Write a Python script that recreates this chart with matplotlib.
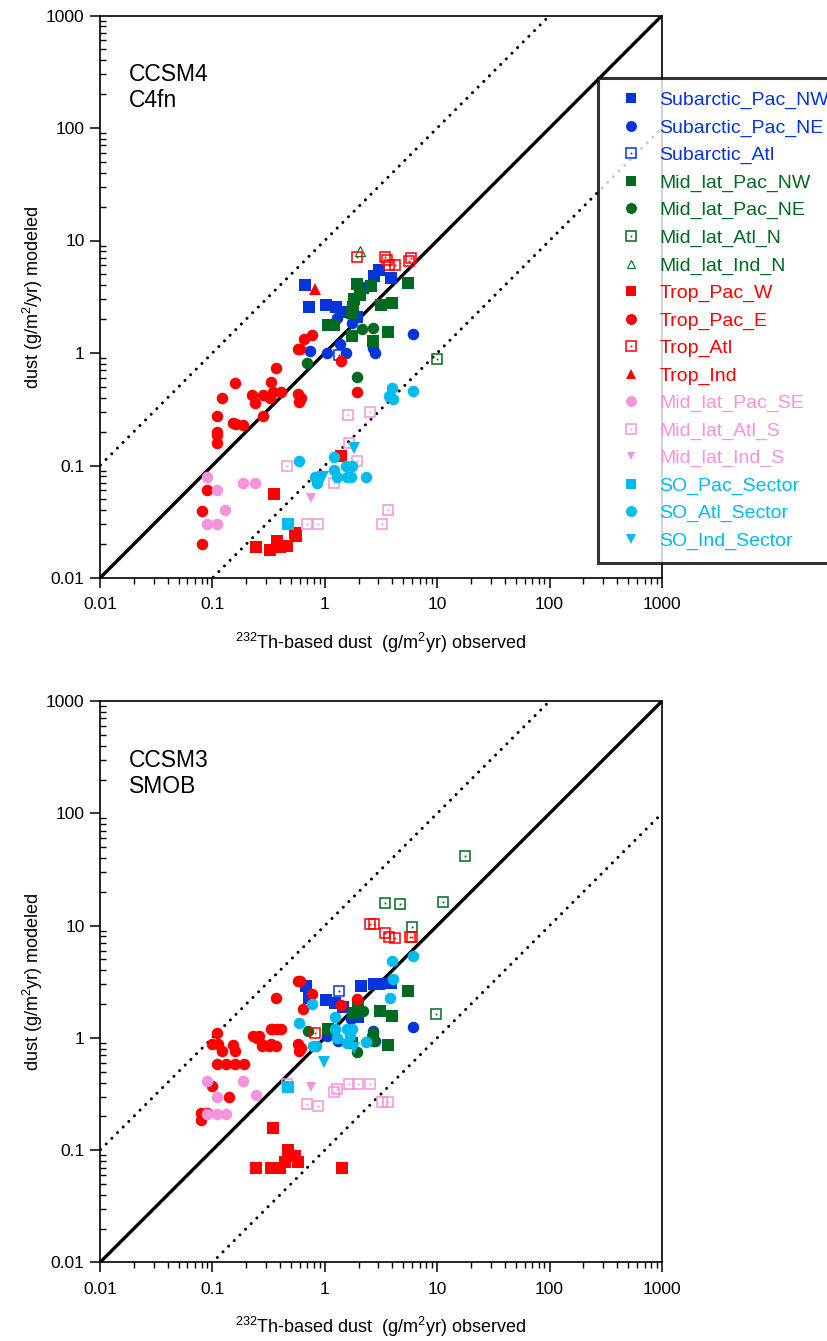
import matplotlib
matplotlib.use('Agg')
import matplotlib.pyplot as plt
from matplotlib.lines import Line2D
from matplotlib.ticker import FixedLocator, FixedFormatter, NullFormatter
import numpy as np

plt.rcParams['font.family'] = ['Liberation Sans', 'DejaVu Sans']
plt.rcParams['mathtext.fontset'] = 'custom'
plt.rcParams['mathtext.rm'] = 'Liberation Sans'
plt.rcParams['mathtext.it'] = 'Liberation Sans:italic'
plt.rcParams['mathtext.bf'] = 'Liberation Sans:bold'
plt.rcParams['mathtext.default'] = 'regular'

# ---------------- series definitions ----------------
series_names = ['Subarctic_Pac_NW', 'Subarctic_Pac_NE', 'Subarctic_Atl',
                'Mid_lat_Pac_NW', 'Mid_lat_Pac_NE', 'Mid_lat_Atl_N', 'Mid_lat_Ind_N',
                'Trop_Pac_W', 'Trop_Pac_E', 'Trop_Atl', 'Trop_Ind',
                'Mid_lat_Pac_SE', 'Mid_lat_Atl_S', 'Mid_lat_Ind_S',
                'SO_Pac_Sector', 'SO_Atl_Sector', 'SO_Ind_Sector']

# ---------------- panel 1: CCSM4 C4fn ----------------
c4_sub_pac_nw_x = [0.67, 0.73, 1.03, 1.25, 1.45, 3.03, 2.75, 3.9, 2.2, 1.95]
c4_sub_pac_nw_y = [4.0, 2.55, 2.65, 2.55, 2.33, 5.5, 4.8, 4.6, 3.76, 2.1]
c4_sub_pac_ne_x = [1.28, 1.73, 1.36, 0.74, 1.04, 1.55, 2.7, 2.8, 6.1]
c4_sub_pac_ne_y = [2.04, 1.84, 1.2, 1.04, 0.99, 0.99, 1.1, 0.99, 1.47]
c4_sub_atl_x = [1.34]
c4_sub_atl_y = [0.96]
c4_mid_pac_nw_x = [1.95, 2.59, 2.06, 1.83, 1.79, 1.73, 1.06, 1.21, 1.75, 2.7, 3.66, 3.14, 3.98, 5.55]
c4_mid_pac_nw_y = [4.08, 3.92, 3.3, 3.0, 2.58, 2.25, 1.76, 1.76, 1.42, 1.28, 1.53, 2.67, 2.77, 4.17]
c4_mid_pac_ne_x = [2.15, 2.7, 0.70, 1.92]
c4_mid_pac_ne_y = [1.62, 1.66, 0.82, 0.61]
c4_mid_atl_n_x = [9.9]
c4_mid_atl_n_y = [0.88]
c4_mid_ind_n_x = [2.06]
c4_mid_ind_n_y = [8.07]
c4_trop_pac_w_x = [0.35, 1.39, 0.243, 0.325, 0.372, 0.40, 0.458, 0.56, 0.54]
c4_trop_pac_w_y = [0.0555, 0.121, 0.0188, 0.0177, 0.0215, 0.019, 0.0194, 0.0238, 0.025]
c4_trop_pac_e_x = [0.366, 0.121, 0.159, 0.226, 0.24, 0.284, 0.325, 0.332, 0.348, 0.405,
                   0.109, 0.109, 0.109, 0.109, 0.151, 0.162, 0.188, 0.28, 0.089, 0.080,
                   0.080, 0.653, 0.764, 0.58, 0.60, 0.58, 0.62, 0.59, 1.38, 1.95]
c4_trop_pac_e_y = [0.73, 0.395, 0.54, 0.42, 0.357, 0.42, 0.395, 0.556, 0.453, 0.45,
                   0.277, 0.2, 0.187, 0.16, 0.24, 0.235, 0.229, 0.277, 0.0605, 0.0396,
                   0.02, 1.33, 1.445, 1.08, 1.08, 0.43, 0.395, 0.37, 0.855, 0.447]
c4_trop_atl_x = [1.95, 3.45, 3.6, 3.75, 4.2, 5.64, 5.9]
c4_trop_atl_y = [7.1, 7.2, 6.7, 6.1, 6.1, 6.6, 6.95]
c4_trop_ind_x = [0.82]
c4_trop_ind_y = [3.68]
c4_mid_pac_se_x = [0.089, 0.109, 0.090, 0.109, 0.129, 0.188, 0.24]
c4_mid_pac_se_y = [0.079, 0.0605, 0.030, 0.030, 0.040, 0.0695, 0.0695]
c4_mid_atl_s_x = [1.62, 2.52, 1.65, 1.95, 0.46, 1.21, 0.69, 0.875, 3.66, 3.24]
c4_mid_atl_s_y = [0.281, 0.297, 0.16, 0.11, 0.10, 0.0695, 0.030, 0.030, 0.040, 0.030]
c4_mid_ind_s_x = [0.75]
c4_mid_ind_s_y = [0.051]
c4_so_pac_x = [0.473]
c4_so_pac_y = [0.030]
c4_so_atl_x = [3.98, 3.75, 4.06, 6.04, 0.59, 1.21, 1.55, 1.73, 1.21, 1.28, 1.56, 1.70, 0.82, 0.845, 2.32]
c4_so_atl_y = [0.485, 0.417, 0.387, 0.46, 0.11, 0.118, 0.1, 0.1, 0.091, 0.079, 0.079, 0.079, 0.079, 0.0695, 0.079]
c4_so_ind_x = [1.83, 0.97]
c4_so_ind_y = [0.142, 0.079]

# ---------------- panel 2: CCSM3 SMOB ----------------
c3_sub_pac_nw_x = [0.675, 0.73, 1.03, 1.23, 2.08, 2.75, 3.03, 3.9, 1.99, 1.45]
c3_sub_pac_nw_y = [2.92, 2.28, 2.18, 2.04, 2.9, 3.0, 3.0, 3.1, 1.55, 1.9]
c3_sub_pac_ne_x = [6.1, 2.7, 1.04, 1.32, 2.8, 1.7]
c3_sub_pac_ne_y = [1.26, 1.16, 1.03, 0.93, 0.93, 1.48]
c3_sub_atl_x = [1.34]
c3_sub_atl_y = [2.6]
c3_mid_pac_nw_x = [5.55, 3.11, 3.98, 3.66, 1.96, 1.77, 1.06, 2.7, 1.73]
c3_mid_pac_nw_y = [2.62, 1.75, 1.57, 0.86, 1.94, 1.66, 1.19, 0.96, 0.9]
c3_mid_pac_ne_x = [2.17, 0.71, 1.92, 2.7, 2.7]
c3_mid_pac_ne_y = [1.75, 1.15, 0.75, 1.11, 0.93]
c3_mid_atl_n_x = [17.8, 3.44, 4.69, 11.3, 5.98, 9.85]
c3_mid_atl_n_y = [41.8, 15.8, 15.5, 16.1, 9.8, 1.63]
c3_mid_ind_n_x = []
c3_mid_ind_n_y = []
c3_trop_pac_w_x = [0.348, 0.473, 0.543, 0.44, 0.58, 0.243, 0.33, 0.40, 1.41]
c3_trop_pac_w_y = [0.157, 0.1, 0.089, 0.079, 0.078, 0.069, 0.069, 0.069, 0.069]
c3_trop_pac_e_x = [0.37, 0.109, 0.10, 0.113, 0.121, 0.153, 0.159, 0.109, 0.131, 0.159,
                   0.191, 0.231, 0.247, 0.274, 0.33, 0.372, 0.32, 0.37, 0.10, 0.14,
                   0.079, 0.089, 0.079, 0.58, 0.60, 0.764, 0.644, 1.38, 1.95, 0.34,
                   0.405, 0.28, 0.33, 0.58, 0.62, 0.59, 0.26]
c3_trop_pac_e_y = [2.26, 1.10, 0.885, 0.885, 0.766, 0.86, 0.766, 0.587, 0.587, 0.587,
                   0.587, 1.03, 0.99, 0.853, 1.19, 1.19, 0.853, 0.853, 0.376, 0.296,
                   0.216, 0.216, 0.186, 3.24, 3.24, 2.47, 1.8, 1.97, 2.21, 1.19,
                   1.19, 0.86, 0.88, 0.88, 0.81, 0.76, 1.03]
c3_trop_atl_x = [2.54, 2.75, 3.44, 3.74, 4.2, 5.73, 5.93, 0.82]
c3_trop_atl_y = [10.3, 10.3, 8.55, 7.88, 7.7, 7.88, 7.88, 1.11]
c3_trop_ind_x = []
c3_trop_ind_y = []
c3_mid_pac_se_x = [0.089, 0.188, 0.109, 0.243, 0.089, 0.109, 0.131]
c3_mid_pac_se_y = [0.417, 0.417, 0.296, 0.31, 0.209, 0.209, 0.209]
c3_mid_atl_s_x = [0.458, 0.69, 0.875, 1.21, 1.28, 1.64, 1.96, 2.55, 3.24, 3.66]
c3_mid_atl_s_y = [0.387, 0.257, 0.248, 0.328, 0.35, 0.387, 0.387, 0.387, 0.267, 0.267]
c3_mid_ind_s_x = [0.75]
c3_mid_ind_s_y = [0.364]
c3_so_pac_x = [0.473]
c3_so_pac_y = [0.364]
c3_so_atl_x = [3.98, 6.04, 4.06, 3.78, 0.764, 0.59, 1.23, 1.23, 1.56, 1.73, 1.28, 1.56, 0.84, 0.79, 2.33, 1.66]
c3_so_atl_y = [4.88, 5.37, 3.33, 2.26, 2.0, 1.37, 1.52, 1.19, 1.19, 1.19, 0.99, 0.9, 0.84, 0.84, 0.92, 1.03]
c3_so_ind_x = [0.98, 1.83]
c3_so_ind_y = [0.608, 0.82]

tick_values = [0.01, 0.1, 1, 10, 100, 1000]
tick_labels = ['0.01', '0.1', '1', '10', '100', '1000']

# ---------------- styles ----------------
BLUE = '#0534DA'
GREEN = '#006A20'
RED = '#FF0000'
PINK = '#F593DD'
CYAN = '#00BBEE'

styles = {
    'Subarctic_Pac_NW': (BLUE, 'sq'), 'Subarctic_Pac_NE': (BLUE, 'ci'), 'Subarctic_Atl': (BLUE, 'osq'),
    'Mid_lat_Pac_NW': (GREEN, 'sq'), 'Mid_lat_Pac_NE': (GREEN, 'ci'), 'Mid_lat_Atl_N': (GREEN, 'osq'),
    'Mid_lat_Ind_N': (GREEN, 'otri'),
    'Trop_Pac_W': (RED, 'sq'), 'Trop_Pac_E': (RED, 'ci'), 'Trop_Atl': (RED, 'osq'), 'Trop_Ind': (RED, 'tri'),
    'Mid_lat_Pac_SE': (PINK, 'ci'), 'Mid_lat_Atl_S': (PINK, 'osq'), 'Mid_lat_Ind_S': (PINK, 'dtri_s'),
    'SO_Pac_Sector': (CYAN, 'sq'), 'SO_Atl_Sector': (CYAN, 'ci'), 'SO_Ind_Sector': (CYAN, 'dtri'),
}

panel1 = [(c4_sub_pac_nw_x, c4_sub_pac_nw_y), (c4_sub_pac_ne_x, c4_sub_pac_ne_y), (c4_sub_atl_x, c4_sub_atl_y),
          (c4_mid_pac_nw_x, c4_mid_pac_nw_y), (c4_mid_pac_ne_x, c4_mid_pac_ne_y), (c4_mid_atl_n_x, c4_mid_atl_n_y),
          (c4_mid_ind_n_x, c4_mid_ind_n_y), (c4_trop_pac_w_x, c4_trop_pac_w_y), (c4_trop_pac_e_x, c4_trop_pac_e_y),
          (c4_trop_atl_x, c4_trop_atl_y), (c4_trop_ind_x, c4_trop_ind_y), (c4_mid_pac_se_x, c4_mid_pac_se_y),
          (c4_mid_atl_s_x, c4_mid_atl_s_y), (c4_mid_ind_s_x, c4_mid_ind_s_y), (c4_so_pac_x, c4_so_pac_y),
          (c4_so_atl_x, c4_so_atl_y), (c4_so_ind_x, c4_so_ind_y)]
panel2 = [(c3_sub_pac_nw_x, c3_sub_pac_nw_y), (c3_sub_pac_ne_x, c3_sub_pac_ne_y), (c3_sub_atl_x, c3_sub_atl_y),
          (c3_mid_pac_nw_x, c3_mid_pac_nw_y), (c3_mid_pac_ne_x, c3_mid_pac_ne_y), (c3_mid_atl_n_x, c3_mid_atl_n_y),
          (c3_mid_ind_n_x, c3_mid_ind_n_y), (c3_trop_pac_w_x, c3_trop_pac_w_y), (c3_trop_pac_e_x, c3_trop_pac_e_y),
          (c3_trop_atl_x, c3_trop_atl_y), (c3_trop_ind_x, c3_trop_ind_y), (c3_mid_pac_se_x, c3_mid_pac_se_y),
          (c3_mid_atl_s_x, c3_mid_atl_s_y), (c3_mid_ind_s_x, c3_mid_ind_s_y), (c3_so_pac_x, c3_so_pac_y),
          (c3_so_atl_x, c3_so_atl_y), (c3_so_ind_x, c3_so_ind_y)]

MS = 8


def marker_kwargs(color, kind):
    if kind == 'sq':
        return [dict(marker='s', ms=MS, mfc=color, mec=color, mew=0)]
    if kind == 'ci':
        return [dict(marker='o', ms=MS + 0.3, mfc=color, mec=color, mew=0)]
    if kind == 'osq':
        return [dict(marker='s', ms=MS - 0.5, mfc='none', mec=color, mew=1.1),
                dict(marker='s', ms=1.3, mfc=color, mec=color, mew=0)]
    if kind == 'otri':
        return [dict(marker='^', ms=6.5, mfc='none', mec=color, mew=0.8)]
    if kind == 'tri':
        return [dict(marker='^', ms=MS, mfc=color, mec=color, mew=0)]
    if kind == 'dtri':
        return [dict(marker='v', ms=MS, mfc=color, mec=color, mew=0)]
    if kind == 'dtri_s':
        return [dict(marker='v', ms=6.5, mfc=color, mec=color, mew=0)]


def draw_panel(ax, data, text, ylabel):
    ax.set_xscale('log')
    ax.set_yscale('log')
    ax.set_xlim(0.01, 1000)
    ax.set_ylim(0.01, 1000)
    ref = np.array([0.001, 10000])
    ax.plot(ref, ref, color='black', lw=2.4, solid_capstyle='butt', zorder=2)
    ax.plot(ref, ref * 10, color='black', lw=2.2, ls=(0, (0.01, 2.6)),
            dash_capstyle='round', zorder=2)
    ax.plot(ref, ref / 10, color='black', lw=2.2, ls=(0, (0.01, 2.6)),
            dash_capstyle='round', zorder=2)
    for name, (x, y) in zip(series_names, data):
        color, kind = styles[name]
        if len(x) == 0:
            continue
        for kw in marker_kwargs(color, kind):
            ax.plot(x, y, ls='none', zorder=3, **kw)

    ax.xaxis.set_major_locator(FixedLocator(tick_values))
    ax.xaxis.set_major_formatter(FixedFormatter(tick_labels))
    ax.yaxis.set_major_locator(FixedLocator(tick_values))
    ax.yaxis.set_major_formatter(FixedFormatter(tick_labels))
    minors = [m * 10.0 ** e for e in range(-2, 3) for m in range(2, 10)]
    ax.xaxis.set_minor_locator(FixedLocator(minors))
    ax.yaxis.set_minor_locator(FixedLocator(minors))
    ax.xaxis.set_minor_formatter(NullFormatter())
    ax.yaxis.set_minor_formatter(NullFormatter())
    ax.tick_params(axis='x', which='major', direction='out', length=7, width=1.1,
                   labelsize=12.5, pad=7, top=False)
    ax.tick_params(axis='x', which='minor', direction='out', length=4, width=1.0, top=False)
    ax.tick_params(axis='y', which='major', direction='out', length=7, width=1.1,
                   labelsize=12.5, pad=4, right=False)
    ax.tick_params(axis='y', which='minor', direction='in', length=4, width=1.0, right=False)
    for sp in ax.spines.values():
        sp.set_linewidth(1.2)
    ax.text(0.052, 0.915, text, transform=ax.transAxes, fontsize=16.5, va='top',
            ha='left', linespacing=1.15)
    ax.set_xlabel(r'$^{232}$Th-based dust  (g/m$^2$yr) observed', fontsize=13, labelpad=13)
    ax.set_ylabel(ylabel, fontsize=13, labelpad=1)


fig = plt.figure(figsize=(8.28, 13.41), dpi=100)
W, H = 828.0, 1341.0
ax1 = fig.add_axes([100 / W, 1 - 578 / H, 562 / W, 562.5 / H])
ax2 = fig.add_axes([100 / W, 1 - 1262.4 / H, 562 / W, 561.3 / H])

draw_panel(ax1, panel1, 'CCSM4\nC4fn', r'dust (g/m$^2$/yr) modeled')
draw_panel(ax2, panel2, 'CCSM3\nSMOB', r'dust (g/m$^2$yr) modeled')

# legend
handles = []
for name in series_names:
    color, kind = styles[name]
    parts = tuple(Line2D([], [], ls='none', **kw) for kw in marker_kwargs(color, kind))
    handles.append(parts if len(parts) > 1 else parts[0])
leg = ax1.legend(handles, series_names, loc='upper left',
                 bbox_to_anchor=(598 / W, 1 - 78 / H), bbox_transform=fig.transFigure,
                 borderaxespad=0, frameon=True, fancybox=False, fontsize=14,
                 labelspacing=0.5, handlelength=2.0, handletextpad=0.45,
                 borderpad=0.7, markerscale=0.95)
leg.get_frame().set_edgecolor('black')
leg.get_frame().set_linewidth(2.2)
leg.set_zorder(10)
for txt, name in zip(leg.get_texts(), series_names):
    txt.set_color(styles[name][0])

fig.savefig('out.png', dpi=100)
